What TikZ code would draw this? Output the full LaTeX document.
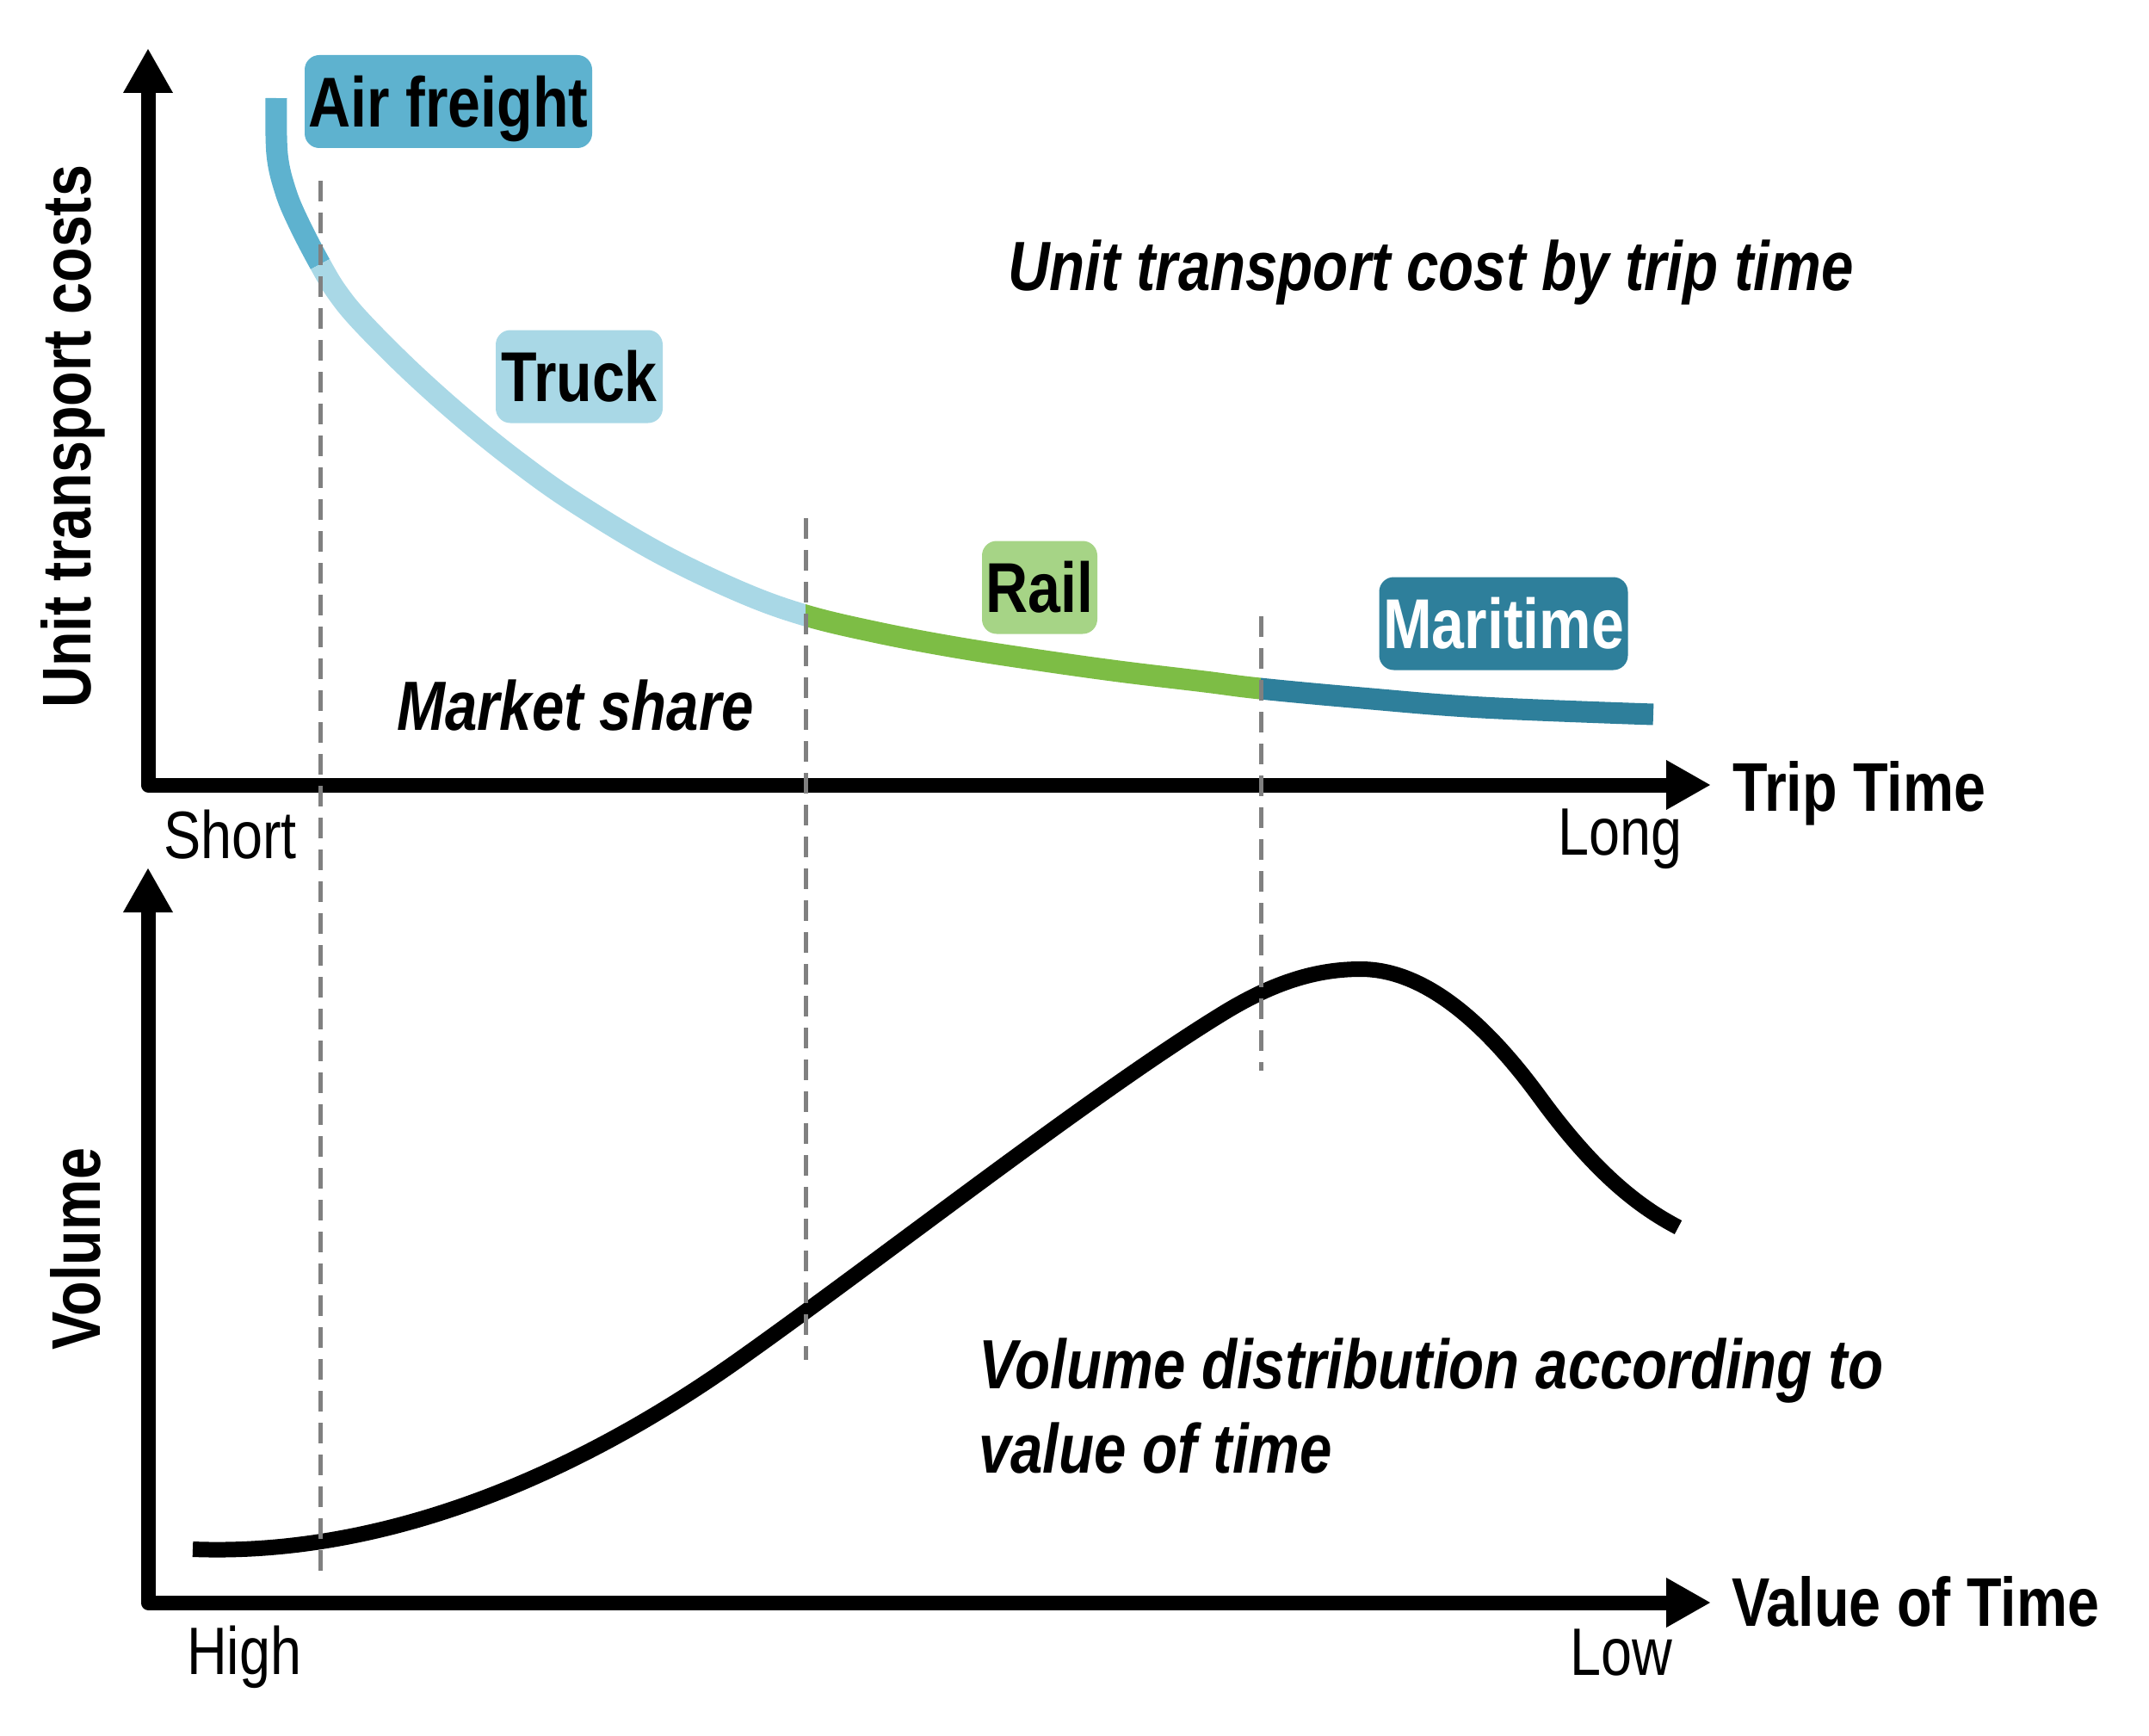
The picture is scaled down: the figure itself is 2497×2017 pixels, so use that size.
\documentclass[tikz,border=0pt]{standalone}
\usepackage{fontspec}
\setmainfont{Liberation Sans}[FakeStretch=0.83]
\usetikzlibrary{arrows.meta}
\definecolor{airc}{HTML}{5EB2CF}
\definecolor{truckc}{HTML}{A9D8E6}
\definecolor{railbox}{HTML}{A6D486}
\definecolor{railc}{HTML}{7DBD45}
\definecolor{marc}{HTML}{2E7F9B}
\definecolor{dashgray}{HTML}{808080}
\begin{document}
\begin{tikzpicture}[x=1pt,y=-1pt,
  axisline/.style={line width=17pt, line join=round,
    {Triangle[length=52pt,width=54pt]}-{Triangle[length=52pt,width=54pt]}},
  lbl/.style={inner sep=0pt, anchor=base west},
  regtext/.style={lbl, font=\fontsize{78}{90}\selectfont},
  boldax/.style={lbl, font=\fontsize{80}{90}\selectfont\bfseries},
  bitext/.style={lbl, font=\fontsize{81}{98}\selectfont\bfseries\itshape},
  boxlbl/.style={rounded corners=17pt, inner xsep=0pt, inner ysep=0pt,
    minimum height=108pt, text height=58.7pt, text depth=0pt,
    font=\fontsize{82}{90}\selectfont\bfseries},
  modecurve/.style={line width=25pt, line cap=butt},
  divider/.style={dashgray, line width=5pt, dash pattern=on 24pt off 13pt}
]
\useasboundingbox (0,0) rectangle (2497,2017);

% ---------- top chart ----------
\path[save path=\toppath] plot[smooth, tension=0.6] coordinates {
  (321,114) (322,179) (332,223) (348,261) (372,307) (392,340) (420,374)
  (478,432) (542,489) (606,540) (670,585) (765,642) (861,688) (936,715)
  (1020,735) (1110,752) (1200,766) (1300,780) (1400,792) (1464,800)
  (1582,811) (1722,822) (1921,830)};

\begin{scope}
  \clip (108,448) -- (724,119) -- (724,0) -- (100,0) -- (100,448) -- cycle;
  \draw[airc, modecurve, use path=\toppath];
\end{scope}
\begin{scope}
  \clip (108,448) -- (724,119) -- (724,0) -- (936,0) -- (936,1000) -- (108,1000) -- cycle;
  \draw[truckc, modecurve, use path=\toppath];
\end{scope}
\begin{scope}
  \clip (936,0) rectangle (1465,1000);
  \draw[railc, modecurve, use path=\toppath];
\end{scope}
\begin{scope}
  \clip (1465,0) rectangle (2000,1000);
  \draw[marc, modecurve, use path=\toppath];
\end{scope}

\coordinate (ytop1) at (172,56);
\coordinate (orig1) at (172,912);
\coordinate (xend1) at (1988,912);
\draw[axisline] (ytop1) -- (orig1) -- (xend1);

\node[boxlbl, fill=airc, minimum width=334pt] (air) at (521,118) {Air freight};
\node[boxlbl, fill=truckc, minimum width=194pt] (truck) at (673,437.5) {Truck};
\node[boxlbl, fill=railbox, minimum width=134pt] (rail) at (1208,682.5) {Rail};
\node[boxlbl, fill=marc, text=white, minimum width=289pt] (maritime) at (1747,724.5) {Maritime};

\node[bitext] (title1) at (1171,338) {Unit transport cost by trip time};
\node[bitext] (mshare) at (461,848) {Market share};
\node[boldax] (triptime) at (2013,942) {Trip Time};
\node[regtext] (short) at (190,997) {Short};
\node[regtext] (long) at (1810,993) {Long};
\node[boldax, rotate=90] (ucost) at (105,823) {Unit transport costs};

% ---------- bottom chart ----------
\coordinate (vstart) at (224,1800);
\coordinate (vrise) at (861,1578);
\coordinate (vmid) at (1420,1178);
\coordinate (vpeak) at (1581,1126);
\coordinate (vfall) at (1790,1276);
\coordinate (vend) at (1950,1426);
\draw[black, line width=18pt, line cap=butt]
  (vstart) .. controls (430,1808) and (650,1728) .. (vrise)
           .. controls (1030,1458) and (1270,1270) .. (vmid)
           .. controls (1480,1141) and (1530,1126) .. (vpeak)
           .. controls (1650,1126) and (1720,1180) .. (vfall)
           .. controls (1850,1358) and (1900,1400) .. (vend);

\coordinate (ytop2) at (172,1008);
\coordinate (orig2) at (172,1862);
\coordinate (xend2) at (1988,1862);
\draw[axisline] (ytop2) -- (orig2) -- (xend2);

\node[boldax, rotate=90] (volume) at (116,1569) {Volume};
\node[regtext] (high) at (217,1945) {High};
\node[regtext] (low) at (1824,1946) {Low};
\node[boldax] (vot) at (2012,1889) {Value of Time};
\node[bitext] (vd1) at (1137,1613) {Volume distribution according to};
\node[bitext] (vd2) at (1137,1711) {value of time};

% ---------- dividers ----------
\draw[divider] (372,210) -- (372,1828);
\draw[divider] (936,602) -- (936,1580);
\draw[divider] (1465,716) -- (1465,1244);
\end{tikzpicture}
\end{document}
